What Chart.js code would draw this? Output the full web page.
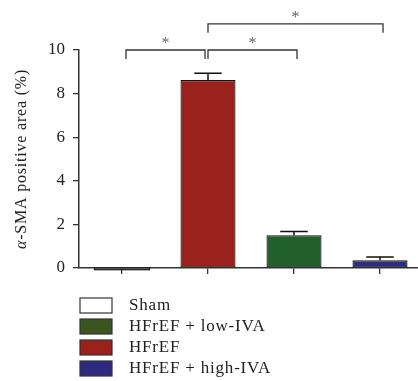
<!DOCTYPE html>
<html>
<head>
<meta charset="utf-8">
<script src="https://cdn.jsdelivr.net/npm/chart.js@4/dist/chart.umd.min.js"></script>
<style>
  html, body { margin: 0; padding: 0; background: #fff; overflow: hidden; }
  #wrap { width: 425px; height: 381px; }
</style>
</head>
<body>
<div id="wrap"><canvas id="myChart" width="425" height="381"></canvas></div>
<script>
// group data
const groups = ['Sham', 'HFrEF', 'HFrEF + low-IVA', 'HFrEF + high-IVA'];
const means = [-0.08, 8.62, 1.5, 0.35];
const upperErr = [-0.05, 8.93, 1.67, 0.5];
const barColors = ['#ffffff', '#9b211c', '#21602a', '#2e2c80'];
const legendColors = ['#ffffff', '#9b221c', '#3b5520', '#2e2a80'];
const legendOrder = [0, 2, 1, 3];
const yTicks = [0, 2, 4, 6, 8, 10];
// significance brackets: [from, to, level]
const brackets = [[0, 1, 10], [1, 2, 10], [1, 3, 11.2]];

const serif = '"Liberation Serif", "DejaVu Serif", serif';

// upper error bars
const errorBars = {
    id: 'errorBars',
    afterDatasetsDraw(chart) {
        const ctx = chart.ctx;
        const y = chart.scales.y;
        const meta = chart.getDatasetMeta(0);
        ctx.save();
        ctx.strokeStyle = '#111';
        ctx.lineWidth = 1.5;
        meta.data.forEach((bar, i) => {
            if (upperErr[i] <= Math.max(means[i], 0)) return;
            const top = y.getPixelForValue(upperErr[i]);
            const half = bar.width / 4;
            ctx.beginPath();
            ctx.moveTo(bar.x, bar.y);
            ctx.lineTo(bar.x, top);
            ctx.moveTo(bar.x - half, top);
            ctx.lineTo(bar.x + half, top);
            ctx.stroke();
        });
        ctx.restore();
    }
};

// significance brackets with stars, plus the y title (italic alpha)
const sigBrackets = {
    id: 'sigBrackets',
    afterDraw(chart) {
        const ctx = chart.ctx;
        const x = chart.scales.x, y = chart.scales.y;
        ctx.save();
        ctx.strokeStyle = '#333';
        ctx.lineWidth = 1.3;
        ctx.fillStyle = '#666';
        ctx.font = '16px ' + serif;
        ctx.textAlign = 'center';
        ctx.textBaseline = 'middle';
        brackets.forEach(([a, b, level]) => {
            const x1 = x.getPixelForValue(a) + (a === 1 ? 0 : 4);
            const x2 = x.getPixelForValue(b) + (b === 1 ? -3 : 3);
            const yy = y.getPixelForValue(level);
            ctx.beginPath();
            ctx.moveTo(x1, yy + 9);
            ctx.lineTo(x1, yy);
            ctx.lineTo(x2, yy);
            ctx.lineTo(x2, yy + 9);
            ctx.stroke();
            ctx.fillText('*', (x1 + x2) / 2, yy - 6);
        });

        // thin Sham bar sitting just under the axis
        const sham = chart.getDatasetMeta(0).data[0];
        const y0 = y.getPixelForValue(0), y1 = y.getPixelForValue(means[0]);
        ctx.strokeStyle = '#222';
        ctx.lineWidth = 1.2;
        ctx.strokeRect(sham.x - sham.width / 2, y0, sham.width, Math.max(y1 - y0, 1.5));

        // axis title
        const cy = (chart.chartArea.top + chart.chartArea.bottom) / 2;
        ctx.translate(22, cy);
        ctx.rotate(-Math.PI / 2);
        ctx.fillStyle = '#222';
        ctx.textAlign = 'left';
        ctx.letterSpacing = '0.8px';
        const fItal = 'italic 16px ' + serif, fReg = '16px ' + serif;
        const a = 'α', rest = '-SMA positive area (%)';
        ctx.font = fItal;
        const wa = ctx.measureText(a).width;
        ctx.font = fReg;
        const wr = ctx.measureText(rest).width;
        let sx = -(wa + wr) / 2;
        ctx.font = fItal;
        ctx.fillText(a, sx, 0);
        ctx.font = fReg;
        ctx.fillText(rest, sx + wa, 0);
        ctx.restore();
    }
};

// vertical legend under the plot
const boxLegend = {
    id: 'boxLegend',
    afterDraw(chart) {
        const ctx = chart.ctx;
        ctx.save();
        ctx.font = '17px ' + serif;
        ctx.letterSpacing = '0.8px';
        ctx.textBaseline = 'middle';
        ctx.strokeStyle = '#333';
        ctx.lineWidth = 1.2;
        legendOrder.forEach((g, row) => {
            const top = 298 + row * 21;
            ctx.fillStyle = legendColors[g];
            ctx.fillRect(80, top, 32, 15);
            ctx.strokeRect(80, top, 32, 15);
            ctx.fillStyle = '#222';
            ctx.fillText(groups[g], 129, top + 8);
        });
        ctx.restore();
    }
};

let ctx = document.getElementById('myChart').getContext('2d');

let myChart = new Chart(ctx, {
    type: 'bar',
    data: {
        labels: groups,
        datasets: [{
            data: means,
            backgroundColor: barColors,
            borderColor: '#111',
            borderWidth: 1.2,
            borderSkipped: false,
            categoryPercentage: 1,
            barPercentage: 0.64,
            clip: false
        }]
    },
    options: {
        responsive: false,
        animation: false,
        layout: { padding: { top: 50, left: 0, right: 2, bottom: 0 } },
        plugins: { legend: { display: false }, tooltip: { enabled: false } },
        scales: {
            x: {
                afterFit(scale) { scale.height = 113; },
                grid: { display: true, offset: false, drawOnChartArea: false, color: '#333', lineWidth: 1.3, tickLength: 6 },
                border: { color: '#333', width: 1.5 },
                ticks: { callback: () => '' }
            },
            y: {
                min: 0,
                max: 10,
                afterFit(scale) { scale.width = 79; },
                afterBuildTicks(scale) { scale.ticks = yTicks.map(v => ({ value: v })); },
                grid: { drawOnChartArea: false, color: '#333', lineWidth: 1.3, tickLength: 6 },
                border: { color: '#333', width: 1.5 },
                ticks: { color: '#222', padding: 8, font: { family: serif, size: 17 } }
            }
        }
    },
    plugins: [errorBars, sigBrackets, boxLegend]
});
</script>
</body>
</html>
